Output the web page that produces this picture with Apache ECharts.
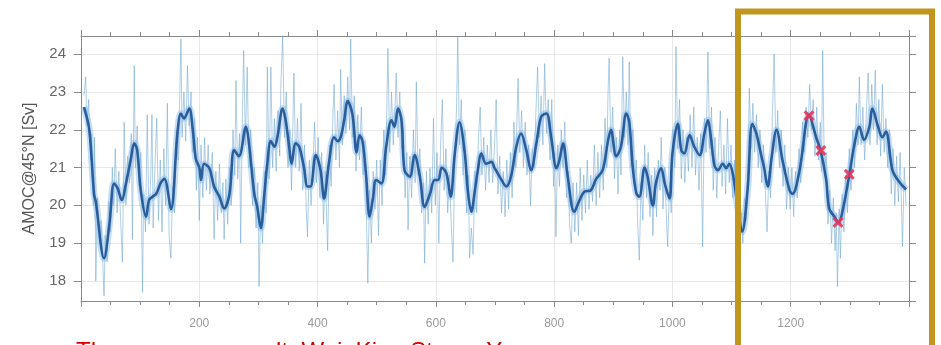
<!DOCTYPE html>
<html><head><meta charset="utf-8">
<script src="https://cdn.jsdelivr.net/npm/echarts@6/dist/echarts.min.js"></script>
<style>html,body{margin:0;padding:0;background:#fff;}#c{width:941px;height:345px;}</style>
</head><body><div id="c"></div>
<script>
// x tick labels (model years)
const xTickLabels = [200, 400, 600, 800, 1000, 1200];
// y tick labels (Sv)
const yTickLabels = [18, 19, 20, 21, 22, 23, 24];

// annual AMOC (thin line), [year, Sv]
const annualAMOC = [
[5,22.9],[8,23.4],[10,22.1],[13,22.8],[16,21.2],[18,21.9],[21,20.0],[23,21.8],[25,18.0],[28,20.2],[31,19.0],[34,19.6],[37,18.4],[39,17.6],[41,19.2],[44,18.5],[47,20.1],[50,19.3],[53,21.0],[55,20.0],[58,21.5],[61,19.8],[64,20.9],[67,19.6],[70,18.5],[72,20.9],[73,22.2],[76,20.0],[79,21.3],[82,20.6],[85,21.9],[87,19.1],[90,23.7],[92,21.0],[95,22.1],[98,20.5],[101,21.4],[104,17.7],[106,20.3],[109,19.3],[112,22.4],[115,19.5],[118,20.8],[120,22.4],[122,19.4],[125,21.0],[128,22.3],[131,19.6],[134,21.2],[137,19.3],[140,21.5],[143,20.0],[146,22.7],[149,19.2],[152,18.6],[155,20.5],[158,19.8],[161,22.0],[164,21.2],[167,22.9],[169,24.4],[171,21.8],[174,23.0],[177,21.7],[180,23.7],[183,22.1],[186,23.0],[189,21.4],[192,22.3],[195,20.4],[197,21.8],[200,19.6],[203,21.6],[206,20.2],[209,21.8],[212,20.4],[215,21.6],[218,20.3],[222,21.4],[225,19.1],[228,20.9],[231,19.6],[234,21.1],[237,19.8],[240,20.6],[242,19.1],[245,20.7],[248,19.5],[251,21.0],[254,20.0],[257,22.0],[260,20.8],[262,23.3],[265,20.7],[268,21.9],[270,19.0],[273,22.5],[275,24.1],[278,21.6],[281,23.66],[284,21.0],[287,22.0],[290,20.0],[293,21.0],[296,19.4],[299,20.6],[301,17.85],[304,20.0],[307,19.0],[310,20.9],[313,19.8],[315,23.66],[318,20.7],[321,23.66],[324,21.0],[327,22.3],[330,20.9],[333,22.5],[336,21.3],[338,23.2],[341,24.5],[344,21.8],[347,23.0],[350,21.0],[353,22.0],[356,20.4],[360,23.5],[363,21.0],[366,22.3],[369,20.9],[372,22.7],[375,20.4],[378,21.6],[381,19.8],[383,19.17],[386,21.2],[389,20.0],[392,21.0],[395,22.2],[398,20.6],[401,21.8],[404,20.2],[407,21.4],[410,19.5],[413,20.9],[417,18.8],[420,21.6],[423,20.5],[426,22.4],[428,23.2],[431,21.2],[434,22.5],[437,21.0],[439,23.6],[442,21.6],[445,22.9],[448,21.9],[451,23.4],[454,22.0],[456,24.4],[459,21.8],[462,22.9],[465,20.9],[468,22.4],[471,21.2],[474,22.6],[477,20.8],[480,21.7],[483,19.4],[485,17.94],[488,20.4],[491,19.0],[494,20.9],[497,19.9],[500,21.2],[503,19.2],[506,21.2],[509,20.0],[512,22.0],[515,20.8],[519,24.15],[522,21.4],[525,23.0],[528,21.6],[531,22.6],[533,23.5],[536,21.8],[539,23.0],[542,21.5],[545,22.0],[548,20.2],[551,21.4],[553,19.35],[556,21.3],[559,20.2],[562,22.0],[565,20.6],[567,23.27],[570,20.8],[573,21.5],[576,19.8],[579,20.6],[581,18.47],[584,20.9],[587,19.5],[590,21.0],[593,19.8],[596,22.3],[599,20.0],[602,21.4],[605,19.0],[608,21.6],[611,22.8],[614,20.4],[617,21.5],[620,19.8],[623,20.8],[626,19.5],[629,18.5],[632,21.2],[635,22.6],[637,24.45],[640,21.6],[643,22.8],[646,20.8],[649,22.0],[652,19.8],[655,20.8],[657,18.6],[660,19.4],[663,18.7],[666,20.9],[669,19.8],[672,21.8],[675,22.6],[678,20.8],[681,21.8],[684,20.4],[687,21.6],[690,20.6],[693,22.0],[696,20.6],[699,21.5],[702,22.8],[705,20.3],[708,21.3],[711,19.8],[714,20.9],[717,19.7],[720,21.2],[723,19.9],[726,21.4],[729,20.2],[732,22.2],[735,21.0],[739,23.36],[742,21.4],[745,22.5],[748,21.0],[751,22.2],[754,20.8],[757,21.6],[760,20.0],[763,21.5],[766,21.0],[769,22.4],[772,23.66],[775,21.8],[778,22.9],[781,21.6],[784,23.75],[787,21.9],[790,22.8],[793,21.2],[796,22.8],[799,20.5],[801,21.4],[803,19.17],[806,21.6],[809,20.5],[812,22.0],[815,21.0],[818,22.2],[821,20.2],[824,20.9],[826,19.5],[829,19.0],[832,20.6],[835,19.3],[838,20.6],[841,19.2],[844,21.0],[847,19.6],[850,20.8],[853,19.8],[856,21.2],[859,19.9],[862,20.8],[865,20.1],[868,21.6],[871,20.0],[874,21.4],[877,20.2],[880,21.6],[883,20.4],[886,22.3],[889,21.0],[891,22.9],[893,23.9],[896,21.4],[899,22.6],[902,20.7],[905,21.8],[908,20.3],[911,22.0],[913,20.8],[916,23.93],[919,21.8],[922,23.0],[925,21.6],[927,23.8],[930,21.0],[933,22.0],[936,20.6],[939,21.2],[941,19.6],[944,18.55],[947,20.6],[950,19.6],[953,21.6],[956,20.2],[959,21.4],[962,19.7],[965,20.8],[967,19.2],[970,21.0],[973,19.7],[976,21.2],[979,20.4],[981,21.8],[984,19.9],[987,21.0],[990,19.6],[992,18.9],[995,20.6],[998,19.8],[1001,22.0],[1004,21.0],[1006,24.2],[1009,21.5],[1012,22.8],[1015,20.7],[1018,22.0],[1021,20.6],[1024,21.8],[1027,20.9],[1030,22.4],[1033,21.0],[1036,22.6],[1039,20.8],[1042,21.8],[1045,20.4],[1048,21.9],[1051,18.9],[1054,22.3],[1057,21.4],[1060,24.06],[1063,21.5],[1066,22.6],[1069,20.4],[1072,21.8],[1075,20.2],[1078,21.5],[1081,22.5],[1084,20.5],[1087,21.6],[1090,20.3],[1093,22.3],[1096,20.6],[1099,21.6],[1102,20.2],[1105,21.2],[1108,19.8],[1111,20.4],[1114,19.0],[1117,19.8],[1119,19.0],[1122,20.2],[1125,19.6],[1128,21.3],[1130,23.1],[1133,21.5],[1136,22.7],[1139,21.4],[1142,22.4],[1145,21.0],[1148,22.0],[1151,20.6],[1154,21.6],[1157,20.4],[1160,19.3],[1163,20.9],[1166,20.2],[1169,22.4],[1172,24.0],[1175,21.4],[1178,22.5],[1181,21.0],[1184,22.0],[1187,20.5],[1190,21.6],[1193,19.9],[1196,21.0],[1199,19.9],[1202,21.0],[1205,19.7],[1208,20.9],[1211,20.2],[1214,21.5],[1217,20.6],[1220,22.2],[1223,21.4],[1226,22.6],[1229,21.8],[1232,23.2],[1235,22.0],[1238,22.8],[1241,21.3],[1244,22.6],[1247,21.2],[1250,22.2],[1252,20.9],[1254,24.1],[1257,20.8],[1260,21.4],[1263,19.5],[1266,20.4],[1269,19.0],[1272,20.2],[1275,18.8],[1277,19.8],[1279,17.85],[1282,19.9],[1284,18.6],[1287,20.3],[1290,19.3],[1293,20.8],[1296,19.8],[1299,21.5],[1302,20.4],[1305,22.0],[1308,21.0],[1311,22.7],[1314,21.6],[1316,23.4],[1319,21.6],[1322,22.6],[1325,21.2],[1328,22.5],[1331,23.5],[1334,21.6],[1337,23.2],[1340,22.0],[1343,23.58],[1346,21.6],[1349,22.8],[1352,21.3],[1355,23.2],[1358,21.4],[1361,22.3],[1364,21.0],[1367,22.0],[1370,20.3],[1373,21.5],[1376,20.0],[1379,21.3],[1382,20.1],[1385,21.4],[1389,18.9],[1392,21.0],[1395,20.0]
];

// smoothed AMOC (thick line), [year, Sv]
const smoothAMOC = [
[5,22.6],[14,22.0],[22,20.3],[25,20.1],[39,18.6],[48,19.5],[56,20.58],[62,20.45],[69,20.14],[76,20.58],[84,21.2],[90,21.64],[95,21.46],[101,20.4],[110,19.7],[115,20.14],[121,20.23],[127,20.3],[135,20.6],[141,20.7],[152,19.9],[163,21.9],[169,22.43],[174,22.3],[183,22.56],[189,22.0],[194,21.24],[200,21.0],[203,20.67],[208,21.1],[217,20.98],[225,20.5],[234,20.23],[242,19.92],[251,20.3],[259,21.46],[267,21.3],[279,22.08],[284,21.64],[293,20.3],[298,19.96],[304,19.4],[310,20.3],[315,21.1],[321,21.7],[327,21.55],[332,21.8],[341,22.56],[346,22.25],[352,21.55],[356,21.1],[363,21.64],[369,21.55],[377,21.0],[383,20.5],[388,20.5],[397,21.33],[405,20.93],[411,20.18],[419,21.1],[428,21.8],[434,21.7],[439,21.8],[445,22.25],[451,22.76],[459,22.4],[466,21.4],[471,21.85],[476,21.7],[482,20.8],[488,19.7],[494,20.23],[499,20.67],[508,20.58],[516,21.55],[525,22.25],[530,22.08],[536,22.56],[542,22.25],[547,20.93],[556,20.76],[564,21.33],[573,20.76],[581,19.96],[590,20.3],[598,20.67],[604,20.67],[610,21.0],[618,20.84],[625,20.23],[632,21.37],[640,22.2],[649,21.37],[654,20.4],[660,19.83],[666,20.4],[671,20.93],[677,21.37],[685,21.1],[694,21.15],[699,21.0],[710,20.7],[719,20.5],[727,20.76],[736,21.55],[744,21.9],[753,21.46],[761,20.93],[770,21.64],[778,22.34],[787,22.43],[795,21.8],[804,20.98],[809,21.2],[815,21.64],[823,20.76],[834,19.83],[843,20.14],[851,20.36],[862,20.4],[871,20.7],[882,20.93],[891,21.7],[896,22.0],[905,21.3],[913,21.55],[922,22.43],[927,22.2],[933,21.0],[939,20.32],[944,20.23],[953,21.0],[958,20.76],[967,20.0],[972,20.58],[981,20.98],[987,20.58],[995,20.18],[1000,21.37],[1009,22.16],[1015,21.46],[1020,21.37],[1029,21.86],[1037,21.55],[1046,21.33],[1054,21.9],[1060,22.25],[1065,21.8],[1071,21.06],[1077,20.93],[1085,21.1],[1091,20.98],[1096,21.1],[1102,20.84],[1110,20.0],[1118,19.3],[1127,20.4],[1135,22.15],[1142,21.9],[1150,21.33],[1155,21.0],[1161,20.5],[1168,21.3],[1176,22.0],[1186,21.2],[1198,20.4],[1203,20.3],[1215,20.93],[1231,22.39],[1243,21.8],[1251,21.42],[1260,20.67],[1265,19.92],[1274,19.7],[1281,19.54],[1288,19.88],[1299,20.8],[1307,21.55],[1316,22.08],[1324,21.73],[1333,22.08],[1338,22.56],[1347,22.12],[1355,21.8],[1361,21.95],[1372,20.93],[1383,20.63],[1395,20.42]
];

// highlighted events (red crosses), [year, Sv]
const markedEvents = [[1231,22.37],[1251,21.45],[1280,19.55],[1299,20.82]];

const chart = echarts.init(document.getElementById('c'), null, {renderer: 'canvas'});
const axisLineStyle = {color: '#8a8a8a', width: 1};
const xBase = {
  type: 'value', min: 0, max: 1400, interval: 200,
  axisLine: {show: true, onZero: false, lineStyle: axisLineStyle},
  axisTick: {show: true, inside: false, length: 6, lineStyle: {color: '#8a8a8a'}},
  minorTick: {show: true, splitNumber: 4, length: 4, lineStyle: {color: '#8a8a8a'}},
  splitLine: {show: true, lineStyle: {color: '#e8e8e8', width: 1}}
};
const yBase = {
  type: 'value', min: 17.47, max: 24.48, splitNumber: 7,
  axisLine: {show: true, onZero: false, lineStyle: axisLineStyle},
  axisTick: {show: true, inside: false, length: 7, lineStyle: {color: '#8a8a8a'}},
  splitLine: {show: true, lineStyle: {color: '#e8e8e8', width: 1}}
};
const xCross = 'path://M2,0 L5,3 L8,0 L10,2 L7,5 L10,8 L8,10 L5,7 L2,10 L0,8 L3,5 L0,2 Z';

chart.setOption({
  animation: false,
  backgroundColor: '#ffffff',
  grid: {left: 81, right: 32, top: 36, bottom: 44, containLabel: false},
  xAxis: [
    Object.assign({}, xBase, {
      position: 'bottom',
      axisLabel: {
        show: true, margin: 17, color: '#9a9a9a', fontSize: 12, fontFamily: 'Liberation Sans, Arial, sans-serif',
        formatter: v => (xTickLabels.indexOf(v) >= 0 ? String(v) : '')
      }
    }),
    Object.assign({}, xBase, {position: 'top', axisLabel: {show: false}, splitLine: {show: false}})
  ],
  yAxis: [
    Object.assign({}, yBase, {
      position: 'left',
      name: 'AMOC@45°N [Sv]', nameLocation: 'middle', nameGap: 43, nameRotate: 90,
      nameTextStyle: {color: '#555', fontSize: 16, fontFamily: 'Liberation Sans, Arial, sans-serif'},
      axisLabel: {
        show: true, margin: 15, color: '#666', fontSize: 15, fontFamily: 'Liberation Sans, Arial, sans-serif',
        showMinLabel: false, showMaxLabel: false,
        formatter: v => (yTickLabels.indexOf(Math.round(v * 100) / 100) >= 0 ? String(v) : '')
      }
    }),
    Object.assign({}, yBase, {position: 'right', axisLabel: {show: false}, splitLine: {show: false}})
  ],
  series: [
    {
      type: 'line', name: 'annual', data: annualAMOC, xAxisIndex: 0, yAxisIndex: 0,
      showSymbol: false, symbol: 'none',
      lineStyle: {color: 'rgba(110,165,210,0.55)', width: 1}, z: 2
    },
    {
      type: 'line', name: 'smoothed halo', data: smoothAMOC, xAxisIndex: 0, yAxisIndex: 0,
      showSymbol: false, symbol: 'none', smooth: 0.35,
      lineStyle: {color: 'rgba(130,185,230,0.45)', width: 7}, z: 3
    },
    {
      type: 'line', name: 'smoothed', data: smoothAMOC, xAxisIndex: 0, yAxisIndex: 0,
      showSymbol: false, symbol: 'none', smooth: 0.35,
      lineStyle: {color: '#2a5d9c', width: 2.6}, z: 4
    },
    {
      type: 'scatter', name: 'events', data: markedEvents, xAxisIndex: 0, yAxisIndex: 0,
      symbol: xCross, symbolSize: 11,
      itemStyle: {color: '#e8345a', opacity: 0.9}, z: 5
    }
  ],
  graphic: [
    {
      type: 'rect', z: 100,
      shape: {x: 738, y: 11.5, width: 194, height: 400},
      style: {fill: 'none', stroke: '#c2961c', lineWidth: 6}
    },
    {
      type: 'text', z: 100, left: 76, top: 340,
      style: {
        text: 'The summary result: Wei, Kim, Stone, Yu',
        fill: '#d40000', font: '24px "Liberation Sans", Arial, sans-serif'
      }
    }
  ]
});
</script>
</body></html>
